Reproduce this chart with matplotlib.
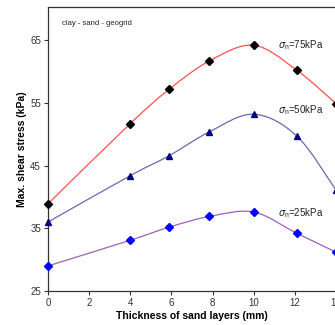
import numpy as np
import matplotlib
matplotlib.use("Agg")
import matplotlib.pyplot as plt
from matplotlib.path import Path
from matplotlib.patches import PathPatch

plt.rcParams['font.family'] = ['Liberation Sans', 'DejaVu Sans']
plt.rcParams['mathtext.fontset'] = 'custom'
plt.rcParams['mathtext.rm'] = 'Liberation Sans'

# thickness of sand layers (mm)
thick = [0, 4, 5.9, 7.85, 10, 12.1, 14]
# max shear stress (kPa) for each normal stress
tau_75 = [38.9, 51.7, 57.2, 61.7, 64.2, 60.2, 54.9]
tau_50 = [36.0, 43.4, 46.6, 50.4, 53.2, 49.7, 41.1]
tau_25 = [29.0, 33.1, 35.2, 36.9, 37.6, 34.2, 31.2]
labels = ["75", "50", "25"]
label_y = [64.3, 53.9, 37.5]


def smooth_path(x, y):
    # Catmull-Rom through the points, drawn as cubic bezier segments
    p = np.column_stack([x, y]).astype(float)
    ext = np.vstack([p[0], p, p[-1]])
    verts = [p[0]]
    codes = [Path.MOVETO]
    for i in range(len(p) - 1):
        p0, p1, p2, p3 = ext[i], ext[i + 1], ext[i + 2], ext[i + 3]
        verts += [p1 + (p2 - p0) / 6, p2 - (p3 - p1) / 6, p2]
        codes += [Path.CURVE4] * 3
    return Path(verts, codes)


fig = plt.figure(figsize=(3.35, 3.25), dpi=100)
ax = fig.add_axes([48 / 335, 34 / 325, 288 / 335, 284 / 325])

series = [
    (tau_75, "#ff5050", "D", "black", 4.0),
    (tau_50, "#6a6aae", "^", "#000080", 5),
    (tau_25, "#a060b8", "D", "#0000ff", 4.0),
]
for vals, lc, mk, mc, ms in series:
    ax.add_patch(PathPatch(smooth_path(thick, vals), fill=False, edgecolor=lc, lw=0.9))
    ax.plot(thick, vals, ls="none", marker=mk, color=mc, ms=ms, clip_on=False, zorder=3)

for lab, yy in zip(labels, label_y):
    ax.text(11.2, yy, r"$\sigma_{\rm n}$=" + lab + "kPa", fontsize=7, va="center", color="#222222")

ax.text(0.7, 67.7, "clay - sand - geogrid", fontsize=5.5, va="center", color="#222222")

ax.set_xlim(0, 14)
ax.set_ylim(25, 70.3)
ax.set_xticks(range(0, 16, 2))
ax.set_yticks([25, 35, 45, 55, 65])
ax.tick_params(direction="out", length=3, width=0.8, labelsize=7, colors="#333333", pad=2)
for s in ax.spines.values():
    s.set_linewidth(0.9)
    s.set_color("#333333")

ax.set_xlabel("Thickness of sand layers (mm)", fontsize=7.5, fontweight="bold", labelpad=2)
ax.set_ylabel("Max. shear stress (kPa)", fontsize=7.5, fontweight="bold", labelpad=2)

fig.savefig("out.png", dpi=100)
